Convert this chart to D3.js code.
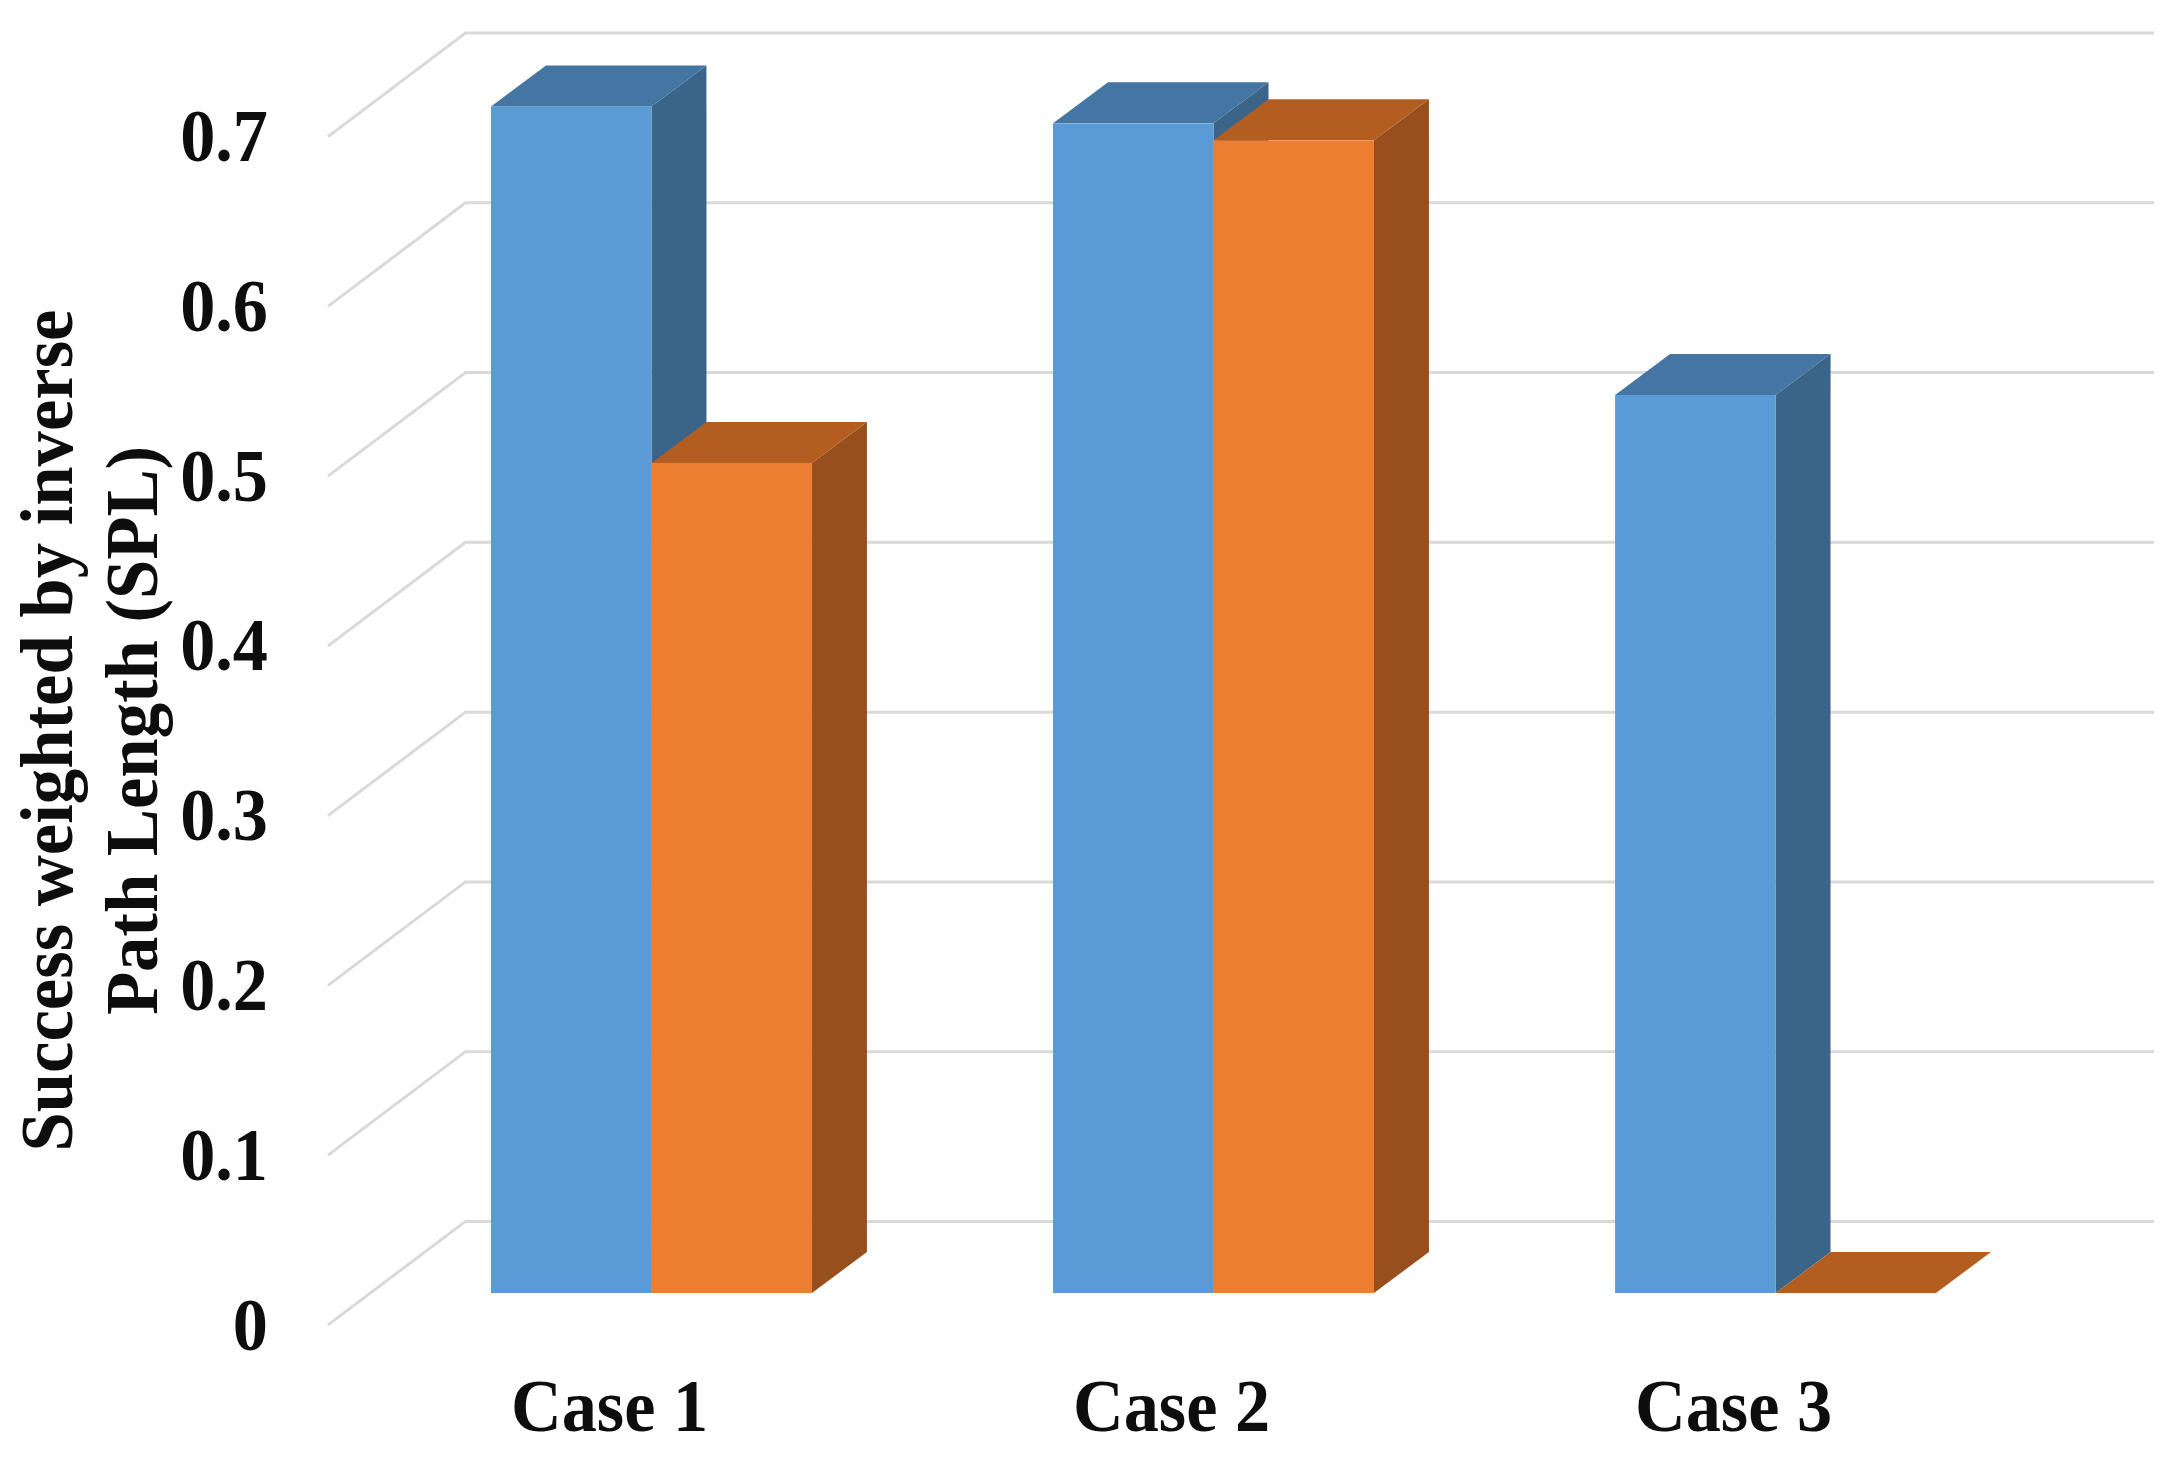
<!DOCTYPE html>
<html><head><meta charset="utf-8">
<script src="https://cdn.jsdelivr.net/npm/d3@7/dist/d3.min.js"></script>
<style>html,body{margin:0;padding:0;background:#fff}svg{display:block}
text{font-family:"Liberation Serif",serif;font-weight:700;fill:#0d0d0d}</style>
</head><body><svg id="c" width="2178" height="1460"></svg>
<script>
const categories = ["Case 1","Case 2","Case 3"];
const seriesA = [0.699,0.689,0.529];
const seriesB = [0.489,0.679,0];
const tickValues = [0,0.1,0.2,0.3,0.4,0.5,0.6,0.7];
const tickLabels = ["0","0.1","0.2","0.3","0.4","0.5","0.6","0.7"];
const yTitleLines = ["Success weighted by inverse","Path Length (SPL)"];

const svg = d3.select("#c");
const y = d3.scaleLinear().domain([0,0.7]).range([1293,104.7]);
const x0 = d3.scaleBand().domain(categories).range([491,1936]).paddingInner(0.429).paddingOuter(0);
const x1 = d3.scaleBand().domain(["a","b"]).range([0,x0.bandwidth()]);

// floor/wall geometry
const wallUp = 71.6, floorDX = 137.5, floorDY = 103.5, wallRight = 2154;
const gridG = svg.append("g").attr("fill","none").attr("stroke","#d9d9d9").attr("stroke-width",3);
gridG.selectAll("path").data(tickValues).join("path")
  .attr("d",d=>{
    const by = y(d)-wallUp;
    return d3.line()([[328,by+floorDY],[328+floorDX,by],[wallRight,by]]);
  });

// y tick labels
const sx = 0.95;
svg.append("g").selectAll("text").data(tickValues).join("text")
  .attr("text-anchor","end").attr("font-size",74)
  .attr("transform",d=>`translate(268,${y(d)+56.5}) scale(${sx},1)`)
  .text((d,i)=>tickLabels[i]);

// bars
const dx = 55, dy = 41;
const colors = {
  a:{front:"#5b9bd5",side:"#3a6488",top:"#4575a2"},
  b:{front:"#ed7d31",side:"#97501d",top:"#b35d21"}
};
const rows = [];
categories.forEach((c,i)=>{
  rows.push({c,k:"a",v:seriesA[i]});
  rows.push({c,k:"b",v:seriesB[i]});
});
const bars = svg.append("g").selectAll("g").data(rows).join("g");
bars.each(function(d){
  const g = d3.select(this);
  const l = x0(d.c)+x1(d.k), r = l+x1.bandwidth(), t = y(d.v), b = y(0);
  const c = colors[d.k];
  const poly = pts=>"M"+pts.map(p=>p.join(",")).join("L")+"Z";
  if(d.v>0){
    g.append("path").attr("d",poly([[r,t],[r+dx,t-dy],[r+dx,b-dy],[r,b]])).attr("fill",c.side);
  }
  g.append("path").attr("d",poly([[l,t],[l+dx,t-dy],[r+dx,t-dy],[r,t]])).attr("fill",c.top);
  if(d.v>0){
    g.append("rect").attr("x",l).attr("y",t).attr("width",r-l).attr("height",b-t).attr("fill",c.front);
  }
});

// category labels
svg.append("g").selectAll("text").data(categories).join("text")
  .attr("text-anchor","middle").attr("font-size",74)
  .attr("transform",d=>`translate(${x0(d)+x0.bandwidth()/2-42},1430.5) scale(${sx},1)`)
  .text(d=>d);

// y title
const titleBase = [72,157];
svg.append("g").selectAll("text").data(yTitleLines).join("text")
  .attr("text-anchor","middle").attr("font-size",74)
  .attr("transform",(d,i)=>`translate(${titleBase[i]},730.5) rotate(-90) scale(0.955,1)`)
  .text(d=>d);
</script></body></html>
